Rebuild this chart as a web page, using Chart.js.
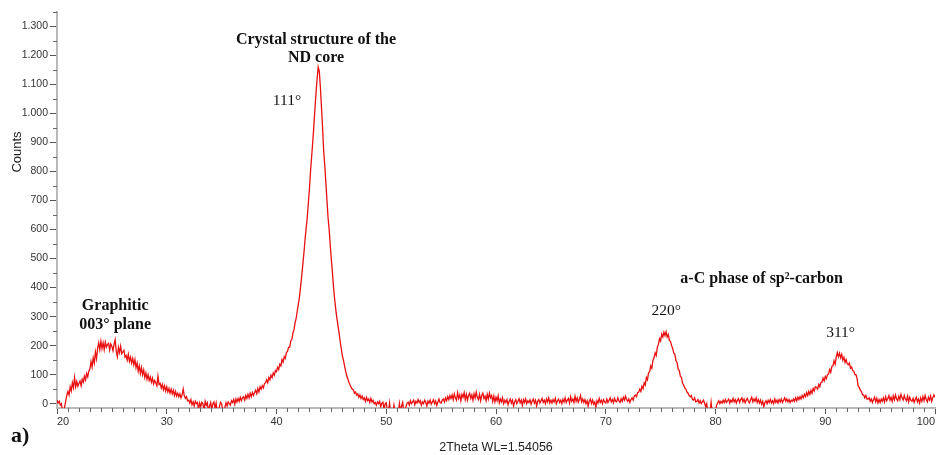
<!DOCTYPE html>
<html>
<head>
<meta charset="utf-8">
<title>XRD pattern</title>
<script src="https://cdn.jsdelivr.net/npm/chart.js@4.4.1/dist/chart.umd.min.js"></script>
<style>
    html, body { margin: 0; padding: 0; background: #fff; }
    #wrap { position: relative; width: 936px; height: 455px; }
</style>
</head>
<body>
<div id="wrap"><canvas id="xrdChart"></canvas></div>
<script>
// 2Theta scan: 20.0 -> 100.0 deg, one reading every 0.1 deg
const thetaStart = 20;
const thetaStep = 0.1;

// 20.0 - 32.9 (graphitic hump)
const countsGraphitic = [
    12, 2, 8, -5, 0, -25, -30, -10, 10, 30,
    42, 30, 58, 44, 72, 55, 90, 58, 76, 60,
    70, 78, 62, 84, 74, 95, 82, 104, 92, 112,
    120, 145, 126, 158, 140, 178, 155, 190, 210, 186,
    215, 190, 210, 186, 212, 195, 204, 208, 185, 206,
    198, 182, 204, 220, 180, 162, 194, 176, 198, 172,
    178, 184, 160, 166, 150, 170, 146, 160, 140, 156,
    134, 152, 124, 140, 112, 130, 104, 124, 100, 116,
    90, 106, 84, 100, 80, 92, 74, 88, 68, 80,
    72, 62, 95, 66, 70, 54, 66, 48, 62, 44,
    58, 40, 52, 36, 50, 34, 46, 28, 42, 26,
    36, 24, 34, 20, 30, 50, 26, 18, 24, 10,
    12, 2, 14, -4, 6, -8, 8, 0, 4, -20
];

// 33.0 - 49.9 (111 diamond peak)
const countsCore = [
    2, -10, 5, 0, -25, 8, -5, 3, -30, -8,
    4, -20, 0, 6, -15, 2, -30, -30, -10, 5,
    0, -25, -30, -12, 3, -8, 6, 0, -5, 10,
    4, 14, -2, 16, 6, 18, 8, 22, 10, 20,
    24, 12, 28, 18, 32, 20, 36, 24, 38, 28,
    38, 46, 34, 52, 40, 58, 50, 62, 54, 68,
    72, 82, 72, 90, 82, 98, 90, 106, 98, 114,
    110, 126, 118, 136, 130, 152, 143, 162, 156, 176,
    180, 194, 194, 216, 222, 244, 256, 280, 296, 322,
    345, 370, 405, 440, 480, 520, 565, 605, 640, 690,
    740, 800, 850, 900, 955, 1015, 1070, 1120, 1160, 1145,
    1090, 1020, 950, 870, 820, 760, 700, 640, 600, 545,
    495, 450, 400, 360, 325, 295, 270, 245, 215, 190,
    165, 150, 130, 112, 96, 85, 74, 64, 56, 50,
    48, 36, 40, 30, 34, 22, 30, 18, 26, 14,
    20, 8, 22, 10, 16, 4, 18, 6, 12, 0,
    4, -5, 6, 0, 8, -10, 2, 5, -20, 0
];

// 50.0 - 71.9 (background)
const countsMid = [
    3, -25, -30, 2, -30, -30, -30, -5, -30, -30,
    -30, -30, 0, -30, -8, 4, -30, -30, -10, 2,
    5, -5, 10, 0, 6, 12, -4, 8, 2, 14,
    4, 10, -5, 6, 0, 12, 5, -8, 9, 2,
    12, -2, 6, 14, 0, 9, -6, 5, 16, 4,
    2, 12, 16, 6, 20, 10, 24, 14, 28, 18,
    30, 14, 34, 20, 12, 38, 18, 30, 10, 32,
    22, 38, 14, 32, 12, 28, 36, 18, 30, 12,
    34, 20, 40, 22, 14, 32, 10, 28, 36, 18,
    26, 10, 32, 16, 36, 20, 28, 8, 26, 6,
    22, 10, 27, 3, 16, 6, 20, 0, 12, 4,
    14, -4, 8, 16, 2, 12, -8, 6, 14, 0,
    8, 17, 3, 12, -6, 14, 4, 16, 0, 10,
    4, 13, -2, 9, 16, 2, 12, -8, 8, 14,
    2, 10, 18, 4, 12, 0, 16, 6, 20, 3,
    12, 2, 14, 6, 18, 0, 10, 16, 4, 12,
    0, 15, 6, 20, 4, 12, 18, 2, 24, 8,
    16, 4, 26, 8, 20, 5, 14, 28, 6, 16,
    4, 14, 0, 10, -8, 9, 16, 0, 12, -2,
    6, -12, 10, 2, 18, 4, 12, 0, 14, 6,
    2, 16, 4, 12, 20, 6, 14, 3, 18, 8,
    6, 20, 10, 4, 17, 8, 22, 12, 26, 14
];

// 72.0 - 79.9 (220 peak)
const counts220 = [
    8, 16, 4, 14, 20, 12, 26, 30, 24, 38,
    40, 50, 42, 60, 52, 72, 64, 90, 82, 106,
    110, 130, 122, 150, 158, 175, 166, 195, 204, 224,
    216, 240, 230, 246, 234, 248, 230, 238, 218, 214,
    200, 190, 174, 170, 148, 142, 118, 114, 94, 90,
    70, 64, 54, 50, 40, 36, 28, 24, 28, 14,
    12, 20, 6, 8, 14, 2, 10, 0, 6, 12,
    2, -10, 0, -30, -30, -30, 5, -30, -30, -20
];

// 80.0 - 100.0 (311 peak and tail)
const countsHigh = [
    -30, -5, 3, 10, 0, 8, 2, 12, 4, 14,
    4, 10, 16, 2, 12, 6, 18, 6, 14, 2,
    12, 17, 4, 14, 20, 6, 16, 3, 12, 18,
    8, 2, 14, 22, 6, 16, 8, 20, 4, 14,
    2, 12, -2, 8, -10, 4, 10, 0, 12, 4,
    14, 2, 10, 0, 16, 4, 12, 2, 14, 6,
    16, 4, 12, 20, 8, 16, 6, 14, 4, 12,
    8, 16, 8, 20, 10, 22, 14, 24, 16, 28,
    20, 32, 24, 38, 28, 42, 32, 46, 36, 52,
    44, 58, 56, 50, 66, 58, 72, 74, 88, 78,
    94, 86, 100, 102, 118, 108, 128, 130, 148, 136,
    160, 176, 162, 174, 158, 170, 150, 160, 142, 152,
    138, 134, 140, 122, 126, 114, 112, 100, 100, 86,
    60, 56, 46, 42, 30, 30, 20, 28, 16, 16,
    20, 8, 16, 4, 14, 22, 6, 18, 2, 14,
    4, 16, 8, 20, 6, 24, 10, 18, 28, 12,
    22, 8, 27, 13, 30, 16, 10, 26, 14, 32,
    20, 12, 28, 16, 10, 26, 6, 22, 12, 8,
    18, 4, 14, 22, 6, 16, 2, 20, 8, 24,
    10, 28, 14, 6, 22, 12, 26, 8, 20, 30,
    22
];

const xTicks = [20, 30, 40, 50, 60, 70, 80, 90, 100];
const yTicks = [0, 100, 200, 300, 400, 500, 600, 700, 800, 900, 1000, 1100, 1200, 1300];

// peak labels, placed in data coordinates
const notes = [
    { text: 'Crystal structure of the', x: 43.6, y: 1254, bold: true },
    { text: 'ND core', x: 43.6, y: 1192, bold: true },
    { text: '111°', x: 40.95, y: 1043, bold: false },
    { text: 'Graphitic', x: 25.3, y: 338, bold: true },
    { text: '003° plane', x: 25.3, y: 270, bold: true },
    { text: 'a-C phase of sp²-carbon', x: 84.2, y: 430, bold: true },
    { text: '220°', x: 75.5, y: 320, bold: false },
    { text: '311°', x: 91.4, y: 243, bold: false }
];

const allCounts = [...countsGraphitic, ...countsCore, ...countsMid, ...counts220, ...countsHigh];
const points = allCounts.map((c, i) => ({ x: +(thetaStart + i * thetaStep).toFixed(1), y: c }));

const xMinor = [];
for (let t = 21; t < 100; t++) if (t % 10 !== 0) xMinor.push(t);
const yMinor = [];
for (let v = 50; v <= 1350; v += 100) yMinor.push(v);

function fmtCount(v) {
    return String(v).replace(/\B(?=(\d{3})+(?!\d))/g, '.');
}

const overlay = {
    id: 'overlay',
    afterDraw(chart) {
        const { ctx } = chart;
        const x = chart.scales.x, y = chart.scales.y;
        ctx.save();

        // minor tick marks
        ctx.strokeStyle = '#666';
        ctx.lineWidth = 1;
        ctx.beginPath();
        xMinor.forEach(v => {
            const px = Math.round(x.getPixelForValue(v)) + 0.5;
            ctx.moveTo(px, x.top);
            ctx.lineTo(px, x.top + 4);
        });
        yMinor.forEach(v => {
            const py = Math.round(y.getPixelForValue(v)) + 0.5;
            ctx.moveTo(y.right - 4, py);
            ctx.lineTo(y.right, py);
        });
        ctx.stroke();

        // annotations
        ctx.fillStyle = '#111';
        ctx.textAlign = 'center';
        ctx.textBaseline = 'middle';
        notes.forEach(n => {
            ctx.font = n.bold ? 'bold 16px "Liberation Serif", "Times New Roman", serif'
                              : '15.5px "Liberation Serif", "Times New Roman", serif';
            ctx.fillText(n.text, x.getPixelForValue(n.x), y.getPixelForValue(n.y));
        });

        // y title
        ctx.save();
        ctx.translate(17, 152);
        ctx.rotate(-Math.PI / 2);
        ctx.font = '13px "Liberation Sans", Arial, sans-serif';
        ctx.fillStyle = '#222';
        ctx.fillText('Counts', 0, 0);
        ctx.restore();

        // panel letter
        ctx.textAlign = 'left';
        ctx.font = 'bold 22px "Liberation Serif", "Times New Roman", serif';
        ctx.fillStyle = '#111';
        ctx.fillText('a)', 11, 436);

        ctx.restore();
    }
};

Chart.defaults.font.family = '"Liberation Sans", Arial, sans-serif';

new Chart(document.getElementById('xrdChart'), {
    type: 'line',
    data: {
        datasets: [{
            data: points,
            borderColor: '#e81010',
            borderWidth: 1.3,
            pointRadius: 0,
            tension: 0,
            fill: false
        }]
    },
    options: {
        responsive: true,
        maintainAspectRatio: false,
        animation: false,
        devicePixelRatio: 1,
        layout: { padding: { top: 12, right: 1, left: 0, bottom: 0 } },
        plugins: { legend: { display: false }, tooltip: { enabled: false } },
        scales: {
            x: {
                type: 'linear',
                min: 20, max: 100,
                afterBuildTicks: s => { s.ticks = xTicks.map(v => ({ value: v })); },
                afterFit: s => { s.height = 47; },
                ticks: { align: 'inner', color: '#333', font: { size: 11 }, padding: 1, maxRotation: 0, autoSkip: false },
                grid: { drawOnChartArea: false, tickLength: 6, tickColor: '#555' },
                border: { color: '#b8b8b8', width: 2 },
                title: { display: true, text: '2Theta WL=1.54056', color: '#222', font: { size: 12.5 }, padding: { top: 0, bottom: 0 } }
            },
            y: {
                type: 'linear',
                min: -15, max: 1350,
                afterBuildTicks: s => { s.ticks = yTicks.map(v => ({ value: v })); },
                afterFit: s => { s.width = 57; },
                ticks: { color: '#333', font: { size: 10.5 }, padding: 2, callback: v => fmtCount(v) },
                grid: { drawOnChartArea: false, tickLength: 7, tickColor: '#555' },
                border: { color: '#b8b8b8', width: 2 }
            }
        }
    },
    plugins: [overlay]
});
</script>
</body>
</html>
